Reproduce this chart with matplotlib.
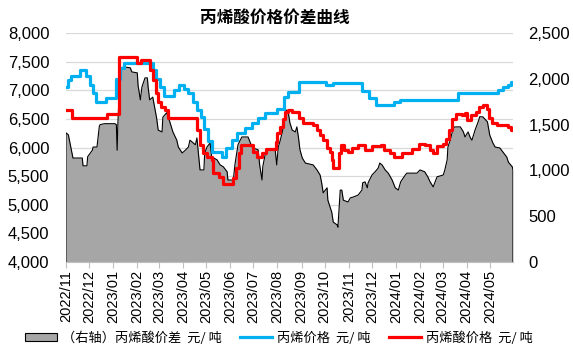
import numpy as np
import matplotlib
matplotlib.use('Agg')
import matplotlib.pyplot as plt
import matplotlib.dates as mdates
from matplotlib.ticker import MultipleLocator, FuncFormatter
from matplotlib.patches import Patch
from matplotlib.lines import Line2D

plt.rcParams['font.family'] = ['Liberation Sans', 'Noto Sans CJK SC', 'DejaVu Sans']

# 起始日期, 各序列用相对天数记录变动点
start = np.datetime64('2022-11-01')

# 丙烯价格 元/吨 (左轴)
propylene_days = [0, 3, 6, 18, 26, 31, 35, 39, 52, 65, 70, 75, 112, 116, 121, 127, 139, 146,
                  152, 158, 164, 169, 174, 178, 183, 188, 201, 207, 214, 221, 231, 240, 248,
                  257, 272, 281, 287, 301, 336, 345, 382, 391, 400, 423, 431, 506, 558, 564,
                  571, 575, 577]
propylene_vals = [7050, 7180, 7250, 7350, 7250, 7100, 6950, 6800, 6870, 7200, 7380, 7470, 7350,
                  7200, 7050, 6900, 7000, 7100, 7030, 6950, 6800, 6650, 6530, 6330, 6120, 5920,
                  5830, 6000, 6130, 6250, 6340, 6420, 6510, 6600, 6680, 6880, 6970, 7140, 7090,
                  7120, 6980, 6860, 6740, 6800, 6830, 6950, 7000, 7050, 7100, 7150, 7150]

# 丙烯酸价格 元/吨 (左轴)
acid_days = [0, 8, 53, 68, 92, 97, 108, 112, 116, 119, 123, 128, 132, 169, 173, 177, 182, 188,
             190, 198, 203, 216, 219, 223, 226, 241, 247, 253, 258, 271, 272, 276, 280, 283,
             287, 292, 301, 306, 319, 324, 328, 332, 337, 341, 343, 345, 352, 355, 359, 364,
             369, 377, 386, 395, 407, 411, 418, 423, 434, 446, 456, 463, 470, 474, 479, 487,
             491, 494, 498, 503, 511, 515, 518, 523, 529, 533, 538, 543, 546, 550, 556, 571,
             575, 577]
acid_vals = [6650, 6510, 6580, 7580, 7470, 7530, 7350, 7180, 6950, 6800, 6700, 6650, 6510, 6300,
             6050, 5900, 5830, 5780, 5550, 5480, 5370, 5460, 5650, 5900, 6050, 5920, 5830, 5900,
             5980, 6090, 6250, 6360, 6500, 6620, 6650, 6620, 6510, 6430, 6390, 6300, 6210, 6130,
             6000, 5920, 5780, 5650, 5900, 6040, 5950, 5920, 6000, 6040, 5960, 6020, 6040, 5950,
             5900, 5840, 5900, 5980, 6060, 6040, 5950, 5900, 6020, 6060, 6150, 6300, 6500, 6580,
             6560, 6600, 6480, 6560, 6620, 6700, 6750, 6680, 6520, 6420, 6400, 6350, 6300, 6300]

# 丙烯酸价差 元/吨 (右轴)
spread_days = [0, 3, 6, 9, 21, 22, 27, 28, 34, 35, 40, 41, 43, 44, 50, 63, 65, 66, 67, 70, 74,
               83, 85, 92, 93, 96, 98, 102, 105, 106, 108, 112, 117, 119, 124, 125, 130, 134,
               138, 141, 143, 145, 150, 154, 158, 160, 167, 169, 173, 178, 179, 182, 186, 188,
               195, 199, 203, 208, 209, 216, 218, 222, 227, 235, 238, 241, 248, 250, 253, 254,
               257, 259, 270, 272, 274, 276, 279, 283, 284, 287, 289, 292, 296, 298, 300, 302,
               305, 309, 319, 324, 328, 330, 332, 337, 338, 343, 345, 350, 351, 354, 356, 358,
               364, 367, 371, 377, 382, 383, 386, 389, 390, 395, 399, 403, 405, 408, 412, 416,
               421, 425, 429, 432, 438, 440, 453, 457, 463, 467, 470, 474, 479, 487, 489, 492,
               493, 496, 500, 502, 509, 513, 515, 519, 522, 524, 528, 532, 534, 538, 544, 547,
               551, 554, 560, 564, 569, 571, 576, 577]
spread_vals = [1410, 1390, 1260, 1135, 1135, 1050, 1050, 1150, 1220, 1255, 1255, 1330, 1480,
               1500, 1510, 1510, 1500, 1220, 1520, 2100, 2130, 2120, 2075, 2065, 1930, 1770,
               1910, 2010, 2010, 1910, 1770, 1800, 1570, 1440, 1420, 1580, 1630, 1530, 1420,
               1365, 1330, 1255, 1190, 1220, 1255, 1330, 1280, 1355, 1005, 1005, 1190, 1255,
               1300, 1150, 1115, 1060, 1040, 985, 895, 895, 1060, 1280, 1365, 1365, 1300, 1245,
               1225, 1060, 895, 1040, 1170, 1225, 1225, 1060, 1255, 1310, 1410, 1580, 1660,
               1630, 1520, 1440, 1420, 1475, 1365, 1225, 1135, 1080, 1060, 1005, 950, 865, 755,
               810, 675, 545, 435, 405, 380, 785, 785, 675, 655, 700, 710, 730, 785, 865, 875,
               810, 865, 950, 985, 1025, 1080, 1060, 1005, 970, 895, 810, 785, 875, 950, 970,
               970, 1005, 985, 930, 875, 820, 930, 950, 1005, 1115, 1255, 1330, 1465, 1475,
               1475, 1420, 1365, 1420, 1355, 1330, 1440, 1530, 1585, 1585, 1530, 1385, 1300,
               1255, 1245, 1200, 1145, 1090, 1040, 1005]

labels = ['（右轴）丙烯酸价差  元/ 吨', '丙烯价格  元/ 吨', '丙烯酸价格  元/ 吨']
title = '丙烯酸价格价差曲线'

c_area = '#A6A6A6'
c_blue = '#00B0F0'
c_red = '#FF0000'
c_grid = '#D9D9D9'

propylene_dates = start + np.array(propylene_days).astype('timedelta64[D]')
acid_dates = start + np.array(acid_days).astype('timedelta64[D]')
spread_dates = start + np.array(spread_days).astype('timedelta64[D]')

fig = plt.figure(figsize=(5.73, 3.47), dpi=100)
ax = fig.add_axes([66 / 573, 1 - 262 / 347, 447 / 573, 229 / 347])
axr = ax.twinx()
ax.set_zorder(axr.get_zorder() + 1)
ax.patch.set_visible(False)

# 价差面积图放在右轴
axr.fill_between(spread_dates, spread_vals, 0, color=c_area, lw=0, zorder=2)
edge_x = np.concatenate([[spread_dates[0]], spread_dates, [spread_dates[-1]]])
edge_y = np.concatenate([[0], spread_vals, [0]])
axr.plot(edge_x, edge_y, color='black', lw=0.8, zorder=3)
axr.set_ylim(0, 2500)
axr.yaxis.set_major_locator(MultipleLocator(500))
axr.yaxis.set_minor_locator(MultipleLocator(312.5))
axr.yaxis.remove_overlapping_locs = False
axr.grid(which='minor', axis='y', color=c_grid, lw=0.9, zorder=0)
axr.set_axisbelow(True)
axr.yaxis.set_major_formatter(FuncFormatter(lambda v, p: f'{v:,.0f}'))
axr.tick_params(axis='y', which='both', length=0, pad=11, labelsize=12)

# 价格曲线放在左轴
ax.plot(propylene_dates, propylene_vals, drawstyle='steps-post', color=c_blue, lw=2.3)
ax.plot(acid_dates, acid_vals, drawstyle='steps-post', color=c_red, lw=2.3)
ax.set_ylim(4000, 8000)
ax.yaxis.set_major_locator(MultipleLocator(500))
ax.yaxis.set_major_formatter(FuncFormatter(lambda v, p: f'{v:,.0f}'))
ax.tick_params(axis='y', length=0, pad=12, labelsize=12)

ax.set_xlim(start, start + np.timedelta64(577, 'D'))
ax.xaxis.set_major_locator(mdates.MonthLocator())
ax.xaxis.set_major_formatter(mdates.DateFormatter('%Y/%m'))
ax.tick_params(axis='x', length=4, color='#BFBFBF', labelsize=10.5, rotation=90, pad=2)

for a in (ax, axr):
    for s in a.spines.values():
        s.set_visible(False)
ax.spines['bottom'].set_visible(True)
ax.spines['bottom'].set_color('#BFBFBF')

fig.text(275 / 573, 1 - 18 / 347, title, fontsize=12, fontweight='bold',
         ha='center', va='center', family=['Noto Sans CJK SC', 'DejaVu Sans'])

handles = [Patch(facecolor=c_area, edgecolor='black', lw=0.8),
           Line2D([], [], color=c_blue, lw=2.3),
           Line2D([], [], color=c_red, lw=2.3)]
fig.legend(handles, labels, loc='center', bbox_to_anchor=(279 / 573, 1 - 338 / 347),
           ncol=3, frameon=False, handlelength=2.4, handleheight=0.55,
           handletextpad=0.4, columnspacing=1.4, borderpad=0, borderaxespad=0,
           prop={'family': ['Noto Sans CJK SC', 'DejaVu Sans'], 'size': 9.5})

fig.savefig('out.png', dpi=100)
